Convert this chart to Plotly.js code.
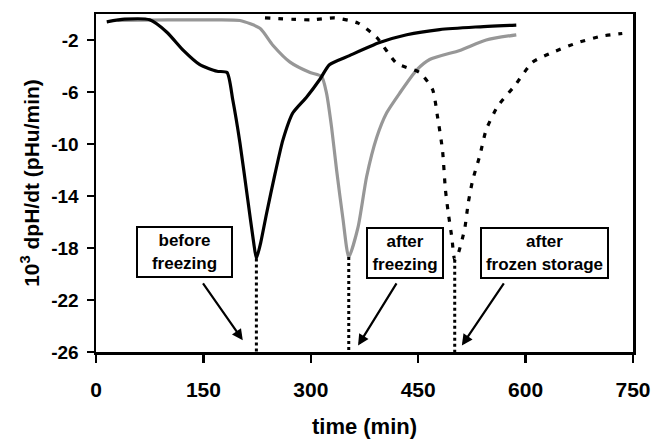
<!DOCTYPE html>
<html>
<head>
<meta charset="utf-8">
<script src="https://cdn.plot.ly/plotly-3.0.1.min.js"></script>
<style>html,body{margin:0;padding:0;background:#fff;}#chart{width:655px;height:439px;}</style>
</head>
<body>
<div id="chart"></div>
<script>
// before freezing (black solid)
var beforeX = [15, 40, 75, 99, 122, 145, 169, 183, 191, 201, 212, 220, 224, 230, 238, 250, 261, 275, 294, 313, 326, 354, 396, 434, 480, 530, 587];
var beforeY = [-0.6, -0.4, -0.45, -1.4, -2.8, -3.9, -4.4, -4.5, -6.6, -9.9, -14.3, -17.5, -18.8, -17.6, -15.4, -12.3, -9.7, -7.6, -6.4, -5.0, -3.9, -3.2, -2.2, -1.6, -1.2, -1.0, -0.85];
// after freezing (grey solid)
var afterFX = [30, 100, 160, 201, 229, 247, 271, 299, 315, 322, 329, 336, 345, 353, 366, 378, 392, 406, 424, 448, 466, 508, 545, 587];
var afterFY = [-0.5, -0.45, -0.45, -0.5, -1.1, -2.4, -3.7, -4.5, -4.8, -6.1, -8.7, -12.0, -15.8, -18.7, -16.4, -12.5, -9.5, -7.6, -6.1, -4.3, -3.5, -2.8, -2.0, -1.6];
// after frozen storage (black dashed)
var afterSX = [236, 301, 333, 366, 392, 420, 452, 470, 477, 484, 488, 492, 497, 501, 506, 515, 520, 526, 536, 545, 561, 585, 610, 640, 673, 706, 735];
var afterSY = [-0.3, -0.45, -0.3, -0.7, -1.8, -3.8, -4.5, -5.8, -7.9, -10.5, -13.5, -15.3, -17.2, -18.9, -18.4, -16.5, -14.5, -12.8, -10.9, -8.9, -7.1, -5.5, -3.7, -2.9, -2.2, -1.7, -1.5];

var xTicks = [0, 150, 300, 450, 600, 750];
var yTicks = [-2, -6, -10, -14, -18, -22, -26];
var peakLabels = ['tmc', 'tmf', 'tms'];
var boxTexts = ['before<br>freezing', 'after<br>freezing', 'after<br>frozen storage'];
var boxPos = [[123.5, -18.3], [431, -18.4], [626, -18.4]];
var boxWidths = [89, 70, 121];
var arrowTail = [[148, -20.6], [421, -20.6], [571, -20.6]];
var arrowHead = [[205, -25.1], [366, -25.5], [511, -25.5]];

function minPoint(xs, ys) {
  var k = 0;
  for (var i = 1; i < ys.length; i++) if (ys[i] < ys[k]) k = i;
  return [xs[k], ys[k]];
}
var peaks = [minPoint(beforeX, beforeY), minPoint(afterFX, afterFY), minPoint(afterSX, afterSY)];

var FONT = 'Liberation Sans, Arial, sans-serif';

var traces = [
  {x: afterFX, y: afterFY, mode: 'lines', line: {color: '#979797', width: 3.2, shape: 'spline', smoothing: 0.6}, hoverinfo: 'skip'},
  {x: beforeX, y: beforeY, mode: 'lines', line: {color: '#000', width: 3.2, shape: 'spline', smoothing: 0.6}, hoverinfo: 'skip'},
  {x: afterSX, y: afterSY, mode: 'lines', line: {color: '#000', width: 3.2, dash: '5px,8px', shape: 'spline', smoothing: 0.6}, hoverinfo: 'skip'}
];

var shapes = peaks.map(function (p) {
  return {type: 'line', xref: 'x', yref: 'y', x0: p[0], x1: p[0], y0: p[1], y1: -26,
          line: {color: '#000', width: 3, dash: 'dot'}};
});

var annotations = [];
for (var i = 0; i < 3; i++) {
  annotations.push({x: boxPos[i][0], y: boxPos[i][1], xref: 'x', yref: 'y', text: '<b>' + boxTexts[i] + '</b>',
    showarrow: false, font: {family: FONT, size: 17, color: '#000'}, bgcolor: '#fff',
    width: boxWidths[i], height: 44,
    bordercolor: '#000', borderwidth: 2, borderpad: 2});
  annotations.push({x: arrowHead[i][0], y: arrowHead[i][1], ax: arrowTail[i][0], ay: arrowTail[i][1],
    xref: 'x', yref: 'y', axref: 'x', ayref: 'y', text: '', showarrow: true,
    arrowhead: 2, arrowsize: 1, arrowwidth: 2.2, arrowcolor: '#000', standoff: 0, startstandoff: 0});
  annotations.push({x: peaks[i][0], y: -27.5, xref: 'x', yref: 'y', text: '<b>' + peakLabels[i] + '</b>',
    showarrow: false, font: {family: FONT, size: 19, color: '#000'}});
}

var layout = {
  width: 655, height: 439,
  margin: {l: 96, r: 22, t: 14, b: 87},
  paper_bgcolor: '#fff', plot_bgcolor: '#fff',
  showlegend: false,
  font: {family: FONT, color: '#000'},
  xaxis: {
    range: [0, 750], tickvals: xTicks, ticktext: xTicks.map(function (v) { return '<b>' + v + '</b>'; }),
    showgrid: false, zeroline: false, showline: true, linecolor: '#000', linewidth: 2.5, mirror: true,
    ticks: 'outside', ticklen: 8, tickwidth: 2.5, tickcolor: '#000', ticklabelstandoff: 9,
    tickfont: {family: FONT, size: 21, color: '#000'},
    title: {text: '<b>time (min)</b>', font: {family: FONT, size: 22, color: '#000'}, standoff: 19}
  },
  yaxis: {
    range: [-26, 0], tickvals: yTicks, ticktext: yTicks.map(function (v) { return '<b>' + v + '</b>'; }),
    showgrid: false, zeroline: false, showline: true, linecolor: '#000', linewidth: 2.5, mirror: true,
    ticks: 'outside', ticklen: 7, tickwidth: 2.5, tickcolor: '#000', ticklabelstandoff: 4,
    tickfont: {family: FONT, size: 19, color: '#000'},
    title: {text: '<b>10<sup>3</sup> dpH/dt (pHu/min)</b>', font: {family: FONT, size: 21, color: '#000'}, standoff: 6}
  },
  shapes: shapes,
  annotations: annotations
};

Plotly.newPlot('chart', traces, layout, {staticPlot: true, displayModeBar: false});
</script>
</body>
</html>
